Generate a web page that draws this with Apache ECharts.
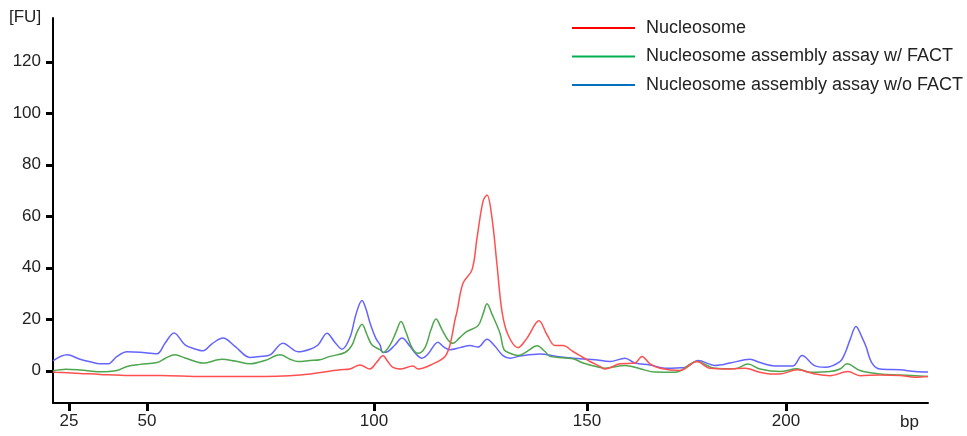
<!DOCTYPE html>
<html>
<head>
<meta charset="utf-8">
<script src="https://cdn.jsdelivr.net/npm/echarts@6/dist/echarts.min.js"></script>
<style>
html,body{margin:0;padding:0;background:#fff;}
#chart{width:967px;height:436px;}
</style>
</head>
<body>
<div id="chart"></div>
<script>
// x values are migration positions; the bp ladder maps positions to bp tick labels
const ladderBp = [25, 50, 100, 150, 200];
const ladderPos = [69, 147, 374, 587, 786];
const yTicks = [0, 20, 40, 60, 80, 100, 120];
const seriesNames = ['Nucleosome', 'Nucleosome assembly assay w/ FACT', 'Nucleosome assembly assay w/o FACT'];

const nucleosome = [
  [53,-0.5],[56,-0.6],[80,-1.0],[100,-1.4],[130,-1.8],[160,-1.8],[203,-2.2],[250,-2.2],[300,-1.6],
  [340,0.4],[350,0.7],[360,2.3],[370,0.7],[376,3.0],[383,5.8],[388,3.5],[393,1.3],[400,0.7],
  [413,1.9],[418,0.7],[433,2.7],[445,5.6],[450,10.1],[455,19.8],[457,23],[463,34],[472,39.2],
  [477,51.5],[483,65.8],[487,68.3],[492,59.3],[497,41.2],[502,23],[508,14],[518,9.0],[527,12.7],
  [539,19.4],[547,14],[555,9.8],[563,9.8],[573,7.5],[587,4.3],[590,3.6],[600,1.7],[605,0.7],
  [620,2.7],[635,3.0],[642,5.6],[650,2.7],[660,1.0],[680,0.1],[697,3.6],[710,1.0],[730,0.7],
  [745,1.0],[760,-0.6],[770,-1.2],[780,-1.2],[797,0.4],[815,-1.2],[830,-1.9],[848,-0.3],
  [860,-1.9],[880,-1.6],[900,-1.8],[915,-2.5],[928,-2.2]
];

const withFact = [
  [53,0.0],[66,0.6],[80,0.3],[100,-0.4],[117,0.1],[127,1.7],[140,2.5],[157,3.2],[165,4.8],
  [175,6.2],[185,5.0],[203,3.0],[222,4.5],[235,3.8],[250,2.7],[265,4.0],[280,6.2],[290,4.5],
  [298,3.6],[310,4.0],[320,4.3],[330,5.6],[345,7.1],[352,10],[357,15],[362,18.1],[367,14],
  [372,10],[380,8.2],[383,7.1],[390,10],[396,15],[401,19.1],[406,15],[412,9],[418,6.8],
  [425,9],[431,16],[436,20.1],[442,16],[448,12],[453,10.7],[460,13],[467,15.3],[478,17.5],
  [483,22],[487,26.0],[492,22],[500,14.6],[504,8.2],[510,6.8],[518,5.9],[527,7.5],[537,9.7],
  [545,7.5],[550,5.6],[573,4.7],[583,3.0],[600,1.3],[605,1.0],[625,2.1],[640,0.8],[655,-0.5],
  [675,-0.6],[697,3.6],[715,1.0],[735,0.8],[748,2.6],[760,0.7],[780,-0.3],[797,0.8],[810,-0.6],
  [830,-0.3],[840,0.7],[847,2.7],[860,0.1],[880,-1.2],[900,-1.6],[928,-2.2]
];

const withoutFact = [
  [53,3.9],[67,6.2],[80,4.5],[90,3.5],[100,2.7],[108,2.7],[117,5.6],[127,7.4],[140,7.2],
  [157,6.6],[165,10.7],[174,14.7],[185,10.1],[195,8.5],[203,7.8],[212,10.5],[223,12.7],
  [235,9.5],[250,5.2],[260,5.6],[270,6.2],[283,10.7],[298,7.4],[310,8.4],[318,10],[327,14.6],
  [335,11],[342,8.4],[350,13],[356,22],[362,27.3],[366,24],[370,18.6],[376,12.5],[380,10.1],
  [383,7.1],[388,7.5],[395,10],[402,12.7],[410,9.5],[416,6.5],[422,4.9],[428,6.5],[438,11.1],
  [444,9.2],[450,8.2],[460,9.0],[470,9.8],[478,9.2],[487,12.3],[495,9.5],[503,5.9],[510,4.9],
  [520,5.7],[540,6.5],[557,5.6],[580,4.7],[595,4.3],[610,3.6],[625,4.9],[635,3.0],[650,2.3],
  [665,1.0],[685,1.3],[698,4.0],[715,2.1],[730,3.0],[750,4.5],[760,3.2],[775,1.9],[793,1.9],
  [802,5.9],[815,1.9],[825,1.4],[840,3.6],[845,6.8],[850,12],[856,17.2],[862,13],[866,9.4],
  [872,3.0],[880,0.7],[900,0.4],[915,-0.3],[928,-0.5]
];

const lineColors = ['#ff5050', '#4ea64e', '#6464ff'];
const legendColors = ['#ff0000', '#00b050', '#0070c0'];
const FONT = '"Liberation Sans", Arial, sans-serif';

const chart = echarts.init(document.getElementById('chart'));
const seriesData = [nucleosome, withFact, withoutFact];

chart.setOption({
  animation: false,
  backgroundColor: '#fff',
  grid: { left: 53, right: 39, top: 18, bottom: 33, containLabel: false },
  legend: {
    orient: 'vertical',
    left: 572,
    top: 19,
    padding: 0,
    icon: 'rect',
    itemWidth: 63,
    itemHeight: 2,
    itemGap: 10.5,
    textStyle: { fontSize: 18, color: '#222', fontFamily: FONT, padding: [0, 0, 0, 6] },
    data: seriesNames.map((n, i) => ({ name: n, itemStyle: { color: legendColors[i] } }))
  },
  xAxis: {
    type: 'value',
    min: 53,
    max: 928,
    splitLine: { show: false },
    axisLine: { show: true, onZero: false, lineStyle: { color: '#000', width: 2 } },
    axisTick: { show: true, customValues: ladderPos, length: 8, lineStyle: { color: '#000', width: 3 } },
    axisLabel: {
      customValues: ladderPos,
      margin: 10,
      fontSize: 17,
      color: '#222',
      fontFamily: FONT,
      formatter: v => { const i = ladderPos.indexOf(v); return i >= 0 ? String(ladderBp[i]) : ''; }
    }
  },
  yAxis: {
    type: 'value',
    min: -12.5,
    max: 137,
    splitLine: { show: false },
    axisLine: { show: true, onZero: false, lineStyle: { color: '#000', width: 2 } },
    axisTick: { show: true, customValues: yTicks, length: 7, lineStyle: { color: '#000', width: 3 } },
    axisLabel: { customValues: yTicks, margin: 12, fontSize: 17, color: '#222', fontFamily: FONT }
  },
  graphic: [
    { type: 'text', left: 9, top: 9, style: { text: '[FU]', fill: '#222', font: '17px ' + FONT } },
    { type: 'text', left: 900, top: 414, style: { text: 'bp', fill: '#222', font: '17px ' + FONT } }
  ],
  series: seriesNames.map((n, i) => ({
    name: n,
    type: 'line',
    data: seriesData[i],
    smooth: 0.35,
    showSymbol: false,
    symbol: 'none',
    lineStyle: { color: lineColors[i], width: 1.5 },
    itemStyle: { color: lineColors[i] },
    z: 3 - i
  }))
});
</script>
</body>
</html>
